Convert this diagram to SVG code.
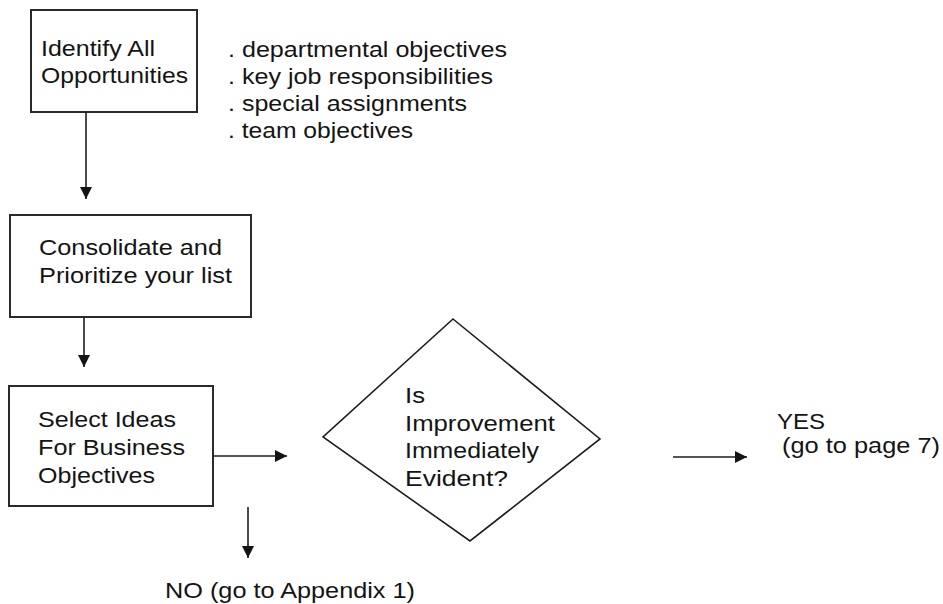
<svg xmlns="http://www.w3.org/2000/svg" width="943" height="604" viewBox="0 0 943 604">
<style>
  .box { fill: #ffffff; stroke: #2a2a2a; stroke-width: 2; }
  .dia { fill: #ffffff; stroke: #1e1e1e; stroke-width: 1.6; }
  .t { font-family: "Liberation Sans", Arial, sans-serif; font-size: 22px; fill: #141414; }
  .conn { stroke: #1e1e1e; stroke-width: 1.6; fill: none; marker-end: url(#arr); }
</style>
<defs>
  <marker id="arr" viewBox="0 0 12 12" refX="12" refY="6" markerWidth="12" markerHeight="12" markerUnits="userSpaceOnUse" orient="auto">
    <path d="M0,0 L12,6 L0,12 z" fill="#141414"/>
  </marker>
</defs>
<rect width="943" height="604" fill="#ffffff"/>

<g id="node-identify">
  <rect class="box" x="31" y="10" width="166" height="102"/>
  <text class="t" x="41" y="56" textLength="114" lengthAdjust="spacingAndGlyphs">Identify All</text>
  <text class="t" x="41" y="83" textLength="147" lengthAdjust="spacingAndGlyphs">Opportunities</text>
</g>

<g id="node-list">
  <text class="t" x="228" y="57" textLength="279" lengthAdjust="spacingAndGlyphs">. departmental objectives</text>
  <text class="t" x="228" y="84" textLength="265" lengthAdjust="spacingAndGlyphs">. key job responsibilities</text>
  <text class="t" x="228" y="111" textLength="239" lengthAdjust="spacingAndGlyphs">. special assignments</text>
  <text class="t" x="228" y="138" textLength="185" lengthAdjust="spacingAndGlyphs">. team objectives</text>
</g>

<g id="node-consolidate">
  <rect class="box" x="10" y="215" width="241" height="102"/>
  <text class="t" x="39" y="255" textLength="183" lengthAdjust="spacingAndGlyphs">Consolidate and</text>
  <text class="t" x="39" y="283" textLength="193" lengthAdjust="spacingAndGlyphs">Prioritize your list</text>
</g>

<g id="node-select">
  <rect class="box" x="9" y="386" width="204" height="120"/>
  <text class="t" x="38" y="427" textLength="138" lengthAdjust="spacingAndGlyphs">Select Ideas</text>
  <text class="t" x="38" y="455" textLength="147" lengthAdjust="spacingAndGlyphs">For Business</text>
  <text class="t" x="38" y="483" textLength="117" lengthAdjust="spacingAndGlyphs">Objectives</text>
</g>

<g id="node-decision">
  <polygon class="dia" points="453,319 600,439 470,541 323,437"/>
  <text class="t" x="405" y="403" textLength="20" lengthAdjust="spacingAndGlyphs">Is</text>
  <text class="t" x="405" y="431" textLength="150" lengthAdjust="spacingAndGlyphs">Improvement</text>
  <text class="t" x="405" y="458" textLength="134" lengthAdjust="spacingAndGlyphs">Immediately</text>
  <text class="t" x="405" y="486" textLength="103" lengthAdjust="spacingAndGlyphs">Evident?</text>
</g>

<g id="node-yes">
  <text class="t" x="777" y="429" textLength="48" lengthAdjust="spacingAndGlyphs">YES</text>
  <text class="t" x="782" y="453" textLength="158" lengthAdjust="spacingAndGlyphs">(go to page 7)</text>
</g>

<g id="node-no">
  <text class="t" x="165" y="598" textLength="250" lengthAdjust="spacingAndGlyphs">NO (go to Appendix 1)</text>
</g>

<g id="connectors">
  <path class="conn" d="M86,112 L86,199"/>
  <path class="conn" d="M84,317 L84,367"/>
  <path class="conn" d="M213,456 L287,456"/>
  <path class="conn" d="M248,507 L248,558"/>
  <path class="conn" d="M673,457 L747,457"/>
</g>
</svg>
